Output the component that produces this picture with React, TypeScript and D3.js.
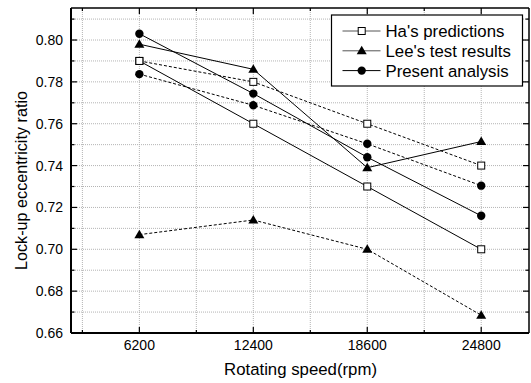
import React from "react";
import * as d3 from "d3";

const speeds = [6200, 12400, 18600, 24800];
const haSolid = [0.79, 0.76, 0.73, 0.7];
const haDashed = [0.79, 0.78, 0.76, 0.74];
const leeSolid = [0.798, 0.786, 0.739, 0.7515];
const leeDashed = [0.707, 0.714, 0.7, 0.6685];
const presentSolid = [0.803, 0.7744, 0.744, 0.716];
const presentDashed = [0.7837, 0.7688, 0.7504, 0.7304];
const xTickLabels = ["6200", "12400", "18600", "24800"];
const yTickValues = [0.66, 0.68, 0.7, 0.72, 0.74, 0.76, 0.78, 0.8];
const legendLabels = ["Ha's predictions", "Lee's test results", "Present analysis"];

const W = 531;
const H = 383;
const L = 71, R = 529, T = 8, B = 333;
const FONT = "'Liberation Sans', Arial, sans-serif";

const x = d3.scaleLinear().domain([2480, 27400]).range([L, R]);
const y = d3.scaleLinear().domain([0.66, 0.8153]).range([B, T]);

type Kind = "square" | "triangle" | "circle";

function Marker({ kind, cx, cy }: { kind: Kind; cx: number; cy: number }) {
  if (kind === "square")
    return <rect x={cx - 3.5} y={cy - 3.5} width={7} height={7} fill="#fff" stroke="#000" strokeWidth={1} />;
  if (kind === "triangle") {
    const p = d3.path();
    p.moveTo(cx, cy - 5);
    p.lineTo(cx + 5, cy + 3.5);
    p.lineTo(cx - 5, cy + 3.5);
    p.closePath();
    return <path d={p.toString()} fill="#000" />;
  }
  return <circle cx={cx} cy={cy} r={4.2} fill="#000" />;
}

const series: { vals: number[]; kind: Kind; dashed: boolean }[] = [
  { vals: haSolid, kind: "square", dashed: false },
  { vals: haDashed, kind: "square", dashed: true },
  { vals: leeSolid, kind: "triangle", dashed: false },
  { vals: leeDashed, kind: "triangle", dashed: true },
  { vals: presentSolid, kind: "circle", dashed: false },
  { vals: presentDashed, kind: "circle", dashed: true },
];

export default function App() {
  const line = d3
    .line<number>()
    .x((_, i) => x(speeds[i]))
    .y((d) => y(d));

  const xGrid = d3.range(3100, 27400, 3100);
  const yGrid = d3.range(0, 16).map((i) => 0.66 + i * 0.01).filter((v) => v < 0.8153);

  return (
    <svg width={W} height={H} style={{ position: "absolute", left: 0, top: 0, background: "#fff" }}>
      <rect x={0} y={0} width={W} height={H} fill="#fff" />
      {xGrid.map((v) => (
        <line key={"gx" + v} x1={x(v)} x2={x(v)} y1={T} y2={B} stroke="#b4b4b4" strokeWidth={1} strokeDasharray="1,1" />
      ))}
      {yGrid.map((v) => (
        <line key={"gy" + v} x1={L} x2={R} y1={y(v)} y2={y(v)} stroke="#b4b4b4" strokeWidth={1} strokeDasharray="1,1" />
      ))}
      {xGrid.map((v, i) => {
        const len = i % 2 === 1 ? 6 : 3;
        return (
          <g key={"tx" + v}>
            <line x1={x(v)} x2={x(v)} y1={B} y2={B - len} stroke="#000" strokeWidth={1.2} />
            <line x1={x(v)} x2={x(v)} y1={T} y2={T + len} stroke="#000" strokeWidth={1.2} />
          </g>
        );
      })}
      {yGrid.map((v, i) => {
        const len = i % 2 === 0 ? 6 : 3.5;
        return (
          <g key={"ty" + v}>
            <line x1={L} x2={L + len} y1={y(v)} y2={y(v)} stroke="#000" strokeWidth={1.2} />
            <line x1={R} x2={R - len} y1={y(v)} y2={y(v)} stroke="#000" strokeWidth={1.2} />
          </g>
        );
      })}
      <line x1={L} x2={R} y1={T} y2={T} stroke="#000" strokeWidth={1.5} />
      <line x1={R} x2={R} y1={T} y2={B} stroke="#000" strokeWidth={1.5} />
      <line x1={L} x2={R} y1={B} y2={B} stroke="#000" strokeWidth={2} />
      <line x1={L} x2={L} y1={T} y2={B} stroke="#000" strokeWidth={2} />
      {speeds.map((s, i) => (
        <text key={"xl" + s} x={x(s)} y={350} textAnchor="middle" fontFamily={FONT} fontSize={14} fill="#000">
          {xTickLabels[i]}
        </text>
      ))}
      {yTickValues.map((v) => (
        <text key={"yl" + v} x={63} y={y(v)} dy="0.36em" textAnchor="end" fontFamily={FONT} fontSize={14} fill="#000">
          {d3.format(".2f")(v)}
        </text>
      ))}
      <text x={(L + R) / 2 + 0.5} y={375} textAnchor="middle" fontFamily={FONT} fontSize={16.8} fill="#000">
        Rotating speed(rpm)
      </text>
      <text
        transform={`translate(27, ${(T + B) / 2 + 10}) rotate(-90)`}
        textAnchor="middle"
        fontFamily={FONT}
        fontSize={16.2}
        fill="#000"
      >
        Lock-up eccentricity ratio
      </text>
      {series.map((s, i) => (
        <path
          key={"l" + i}
          d={line(s.vals) || ""}
          fill="none"
          stroke="#000"
          strokeWidth={1}
          strokeDasharray={s.dashed ? "3,2" : undefined}
        />
      ))}
      {series.map((s, i) =>
        s.vals.map((v, j) => <Marker key={"m" + i + "-" + j} kind={s.kind} cx={x(speeds[j])} cy={y(v)} />)
      )}
      <rect x={331.5} y={15} width={191} height={71} fill="#fff" stroke="#000" strokeWidth={1.2} />
      {legendLabels.map((lab, i) => {
        const ry = 31 + i * 19.8;
        const kinds: Kind[] = ["square", "triangle", "circle"];
        return (
          <g key={"lg" + i}>
            <line x1={342.5} x2={380.5} y1={ry} y2={ry} stroke={i < 2 ? "#555" : "#000"} strokeWidth={1} />
            <Marker kind={kinds[i]} cx={361.7} cy={ry} />
            <text x={385.5} y={ry} dy="0.36em" fontFamily={FONT} fontSize={16.8} fill="#000">
              {lab}
            </text>
          </g>
        );
      })}
    </svg>
  );
}
